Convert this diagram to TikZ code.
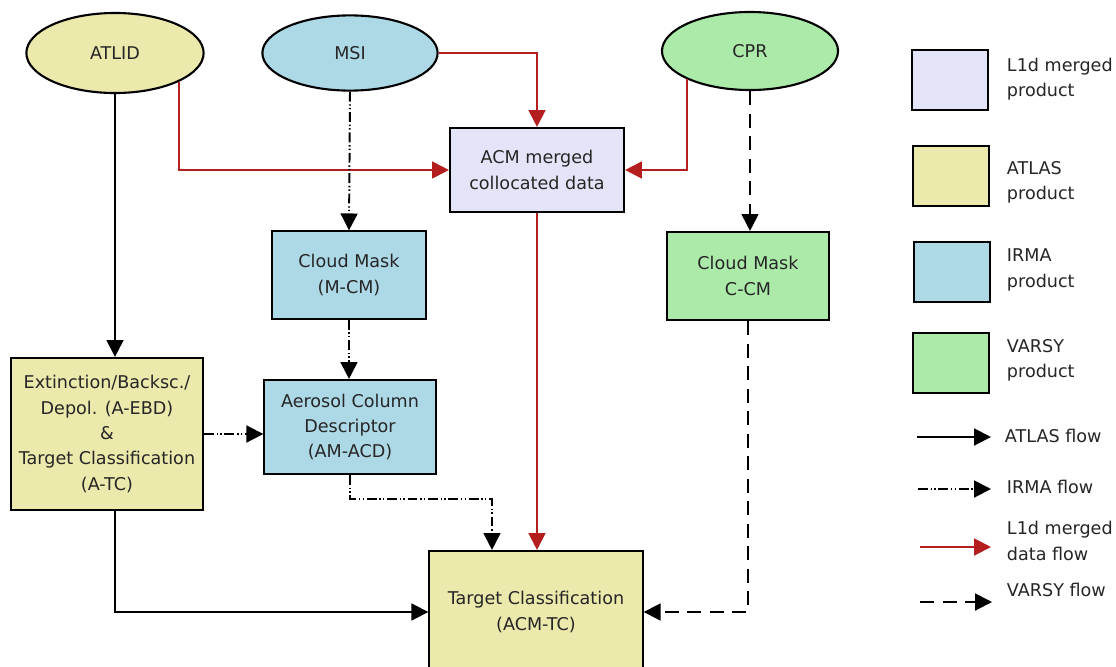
\documentclass[tikz,border=0pt]{standalone}
\usepackage{fontspec}
\setmainfont{DejaVu Sans}
\usepackage{tikz}
\usetikzlibrary{shapes.geometric,arrows.meta,positioning}

\definecolor{atlasY}{RGB}{235,233,172}
\definecolor{irmaB}{RGB}{173,216,230}
\definecolor{varsyG}{RGB}{172,234,170}
\definecolor{lidL}{RGB}{228,228,248}
\definecolor{flowred}{RGB}{180,30,30}

\begin{document}
\begin{tikzpicture}[x=0.025cm,y=-0.025cm,
    every node/.style={font=\fontsize{12.5}{18}\selectfont,text=black!85,align=center},
    src/.style={ellipse,draw,line width=1.5pt,inner sep=0pt},
    prod/.style={rectangle,draw,line width=1.5pt,inner sep=0pt},
    tip/.style={-{Triangle[length=12pt,width=12pt]}},
    atlasflow/.style={tip,line width=1.4pt},
    irmaflow/.style={tip,line width=1.4pt,dash pattern=on 7pt off 2pt on 1pt off 1.5pt on 1pt off 2pt},
    redflow/.style={tip,line width=1.4pt,color=flowred},
    varsyflow/.style={tip,line width=1.4pt,dash pattern=on 10pt off 6pt}]
        \useasboundingbox[fill=white] (0,0) rectangle (1116,666);
        % instruments
        \node[src,fill=atlasY,minimum width=4.43cm,minimum height=2cm] (ATLID) at (115,53) {ATLID};
        \node[src,fill=irmaB,minimum width=4.38cm,minimum height=1.88cm] (MSI) at (350,53) {MSI};
        \node[src,fill=varsyG,minimum width=4.4cm,minimum height=1.95cm] (CPR) at (750,51) {CPR};
        % products
        \node[prod,fill=lidL,minimum width=4.35cm,minimum height=2.1cm] (ACM) at (537,170) {ACM merged\\collocated data};
        \node[prod,fill=irmaB,minimum width=3.83cm,minimum height=2.18cm] (MCM) at (349,275) {Cloud Mask\\(M-CM)};
        \node[prod,fill=varsyG,minimum width=4.03cm,minimum height=2.2cm] (CCM) at (748,276) {Cloud Mask\\C-CM};
        \node[prod,fill=atlasY,minimum width=4.8cm,minimum height=3.8cm] (EBD) at (107,434) {Extinction/Backsc./\\Depol. (A-EBD)\\\&\\Target Classification\\(A-TC)};
        \node[prod,fill=irmaB,minimum width=4.28cm,minimum height=2.35cm] (ACD) at (350,427) {Aerosol Column\\Descriptor\\(AM-ACD)};
        \node[prod,fill=atlasY,minimum width=5.33cm,minimum height=3.05cm] (TC) at (536,612) {Target Classification\\(ACM-TC)};
        % flows
        \draw[atlasflow] (ATLID.south) -- (ATLID.south |- EBD.north);
        \draw[atlasflow] (ATLID.south |- EBD.south) |- (TC.west);
        \draw[redflow] (ATLID.-24) |- (ACM.west);
        \draw[redflow] (MSI.east) -| (ACM.north);
        \draw[redflow] (CPR.204) |- (ACM.east);
        \draw[redflow] (ACM.south) -- (ACM.south |- TC.north);
        \draw[irmaflow] (MSI.south) -- (MCM.north);
        \draw[irmaflow] (MCM.south) -- (MCM.south |- ACD.north);
        \draw[irmaflow] (EBD.east) -- (EBD.east -| ACD.west);
        \draw[irmaflow] (ACD.south) -- ++(0,24) -| ([xshift=-1.1cm]TC.north);
        \draw[varsyflow] (CPR.south) -- (CPR.south |- CCM.north);
        \draw[varsyflow] (CCM.south) |- (TC.east);
        % legend
        \node[prod,fill=lidL,minimum width=1.9cm,minimum height=1.5cm] (kL1d) at (950,80) {};
        \node[prod,fill=atlasY,minimum width=1.9cm,minimum height=1.5cm] (kATL) at (951,176) {};
        \node[prod,fill=irmaB,minimum width=1.9cm,minimum height=1.5cm] (kIRM) at (952,272) {};
        \node[prod,fill=varsyG,minimum width=1.9cm,minimum height=1.5cm] (kVAR) at (951,363) {};
        \node[anchor=west,align=left] (tL1d) at (1002,79) {L1d merged\\product};
        \node[anchor=west,align=left] (tATL) at (1002,182) {ATLAS\\product};
        \node[anchor=west,align=left] (tIRM) at (1002,270) {IRMA\\product};
        \node[anchor=west,align=left] (tVAR) at (1002,360) {VARSY\\product};
        \coordinate (a1) at (917,437); \coordinate (b1) at (991,437);
        \coordinate (a2) at (918,489); \coordinate (b2) at (991,489);
        \coordinate (a3) at (920,547); \coordinate (b3) at (991,547);
        \coordinate (a4) at (920,602); \coordinate (b4) at (992,602);
        \draw[atlasflow] (a1) -- (b1);
        \draw[irmaflow] (a2) -- (b2);
        \draw[redflow] (a3) -- (b3);
        \draw[varsyflow] (a4) -- (b4);
        \node[anchor=west,align=left] (fATL) at (1000,436) {ATLAS flow};
        \node[anchor=west,align=left] (fIRM) at (1002,487) {IRMA flow};
        \node[anchor=west,align=left] (fL1d) at (1002,541) {L1d merged\\data flow};
        \node[anchor=west,align=left] (fVAR) at (1002,590) {VARSY flow};
    \end{tikzpicture}
\end{document}
